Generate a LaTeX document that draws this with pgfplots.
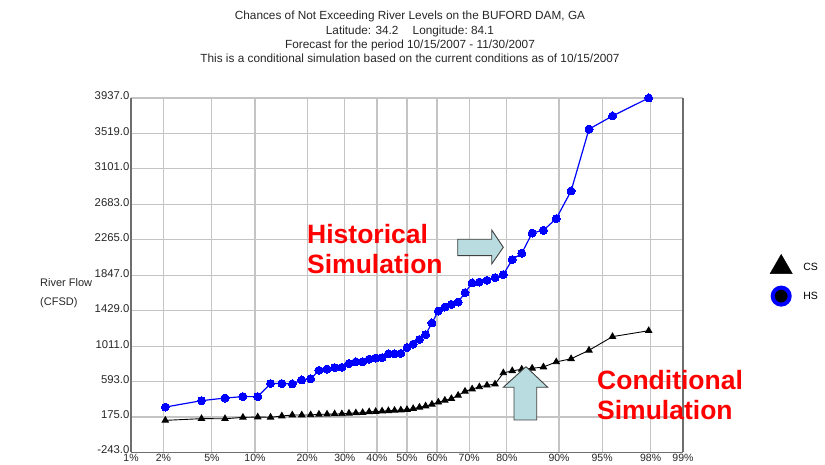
\documentclass[border=0pt]{standalone}
\usepackage{fontspec}
\setmainfont{Liberation Sans}
\usepackage{pgfplots}
\pgfplotsset{compat=1.18}
\definecolor{gridgray}{HTML}{C4C4C4}
\definecolor{axgray}{HTML}{6E6E6E}
\definecolor{arrowfill}{HTML}{B8DCDF}
\definecolor{hsblue}{HTML}{0000FF}
\pgfplotsset{dotlegend/.style={legend image code/.code={\draw[##1] plot coordinates {(0pt,0pt)};}}}
\begin{document}
\begin{tikzpicture}[x=1pt,y=1pt]
\useasboundingbox (0,0) rectangle (825,465);
\begin{axis}[
  at={(131pt,12.5pt)}, anchor=south west,
  scale only axis, width=552pt, height=354.5pt,
  xmin=-2.3263, xmax=2.3263, ymin=-243, ymax=3937,
  xtick={-2.3263,-2.0537,-1.6449,-1.2816,-0.8416,-0.5244,-0.2533,0,0.2533,0.5244,0.8416,1.2816,1.6449,2.0537,2.3263},
  xticklabels={1\%,2\%,5\%,10\%,20\%,30\%,40\%,50\%,60\%,70\%,80\%,90\%,95\%,98\%,99\%},
  ytick={-243,175,593,1011,1429,1847,2265,2683,3101,3519,3937},
  yticklabels={\raisebox{2.5pt}{-243.0},175.0,593.0,1011.0,1429.0,1847.0,2265.0,2683.0,3101.0,3519.0,3937.0},
  grid=major, major grid style={gridgray, line width=1.2pt},
  axis x line*=bottom, axis y line*=left,
  axis line style={axgray, line width=1.3pt, -},
  major tick length=0pt,
  /pgf/number format/assume math mode=true,
  tick label style={font=\fontsize{11.3}{12}\selectfont, text=black!85},
  xticklabel style={font=\fontsize{10.5}{11}\selectfont, inner sep=0.5pt, yshift=-1pt},
  yticklabel style={inner sep=1.5pt, yshift=2pt},
  clip=false,
  legend style={at={(rel axis cs:1.152,0.488)}, anchor=west, draw=none, fill=none,
    font=\fontsize{10.5}{12}\selectfont, row sep=14pt, column sep=9pt},
  legend cell align=left,
]
\addplot[black, line width=0.9pt, mark=triangle*, mark size=3.6pt, mark options={fill=black}, forget plot] coordinates {
(-2.037,136) (-1.732,156) (-1.534,155) (-1.383,171) (-1.258,175) (-1.150,172) (-1.055,187) (-0.967,199)
(-0.887,199) (-0.812,200) (-0.742,207) (-0.674,208) (-0.610,211) (-0.549,212) (-0.489,219) (-0.431,223)
(-0.374,227) (-0.319,236) (-0.264,240) (-0.210,245) (-0.157,249) (-0.105,253) (-0.052,257) (0,262)
(0.052,274) (0.105,290) (0.157,305) (0.210,325) (0.264,350) (0.319,372) (0.374,392) (0.431,430)
(0.489,478) (0.549,505) (0.610,530) (0.674,550) (0.742,563) (0.812,695) (0.887,720) (0.967,738)
(1.055,750) (1.150,765) (1.258,825) (1.383,862) (1.534,962) (1.732,1123) (2.037,1193)
};
\addplot[hsblue, line width=1.2pt, mark=*, mark size=4pt, mark options={fill=hsblue, draw=hsblue, line width=0pt}, forget plot] coordinates {
(-2.037,293) (-1.732,368) (-1.534,399) (-1.383,416) (-1.258,416) (-1.150,570) (-1.055,570) (-0.967,565)
(-0.887,612) (-0.812,625) (-0.742,726) (-0.674,741) (-0.610,758) (-0.549,761) (-0.489,806) (-0.431,826)
(-0.374,826) (-0.319,858) (-0.264,871) (-0.210,875) (-0.157,920) (-0.105,920) (-0.052,926) (0,995)
(0.052,1035) (0.105,1090) (0.157,1147) (0.210,1284) (0.264,1425) (0.319,1472) (0.374,1504) (0.431,1531)
(0.489,1642) (0.549,1756) (0.610,1767) (0.674,1787) (0.742,1819) (0.812,1855) (0.887,2032) (0.967,2106)
(1.055,2345) (1.150,2377) (1.258,2515) (1.383,2841) (1.534,3570) (1.732,3725) (2.037,3937)
};
\addlegendimage{dotlegend, black, mark=triangle*, mark size=12.8pt, mark options={fill=black}}
\addlegendentry{CS}
\addlegendimage{dotlegend, black, mark=*, mark size=8.5pt, mark options={fill=black, draw=hsblue, line width=4pt}}
\addlegendentry{HS}
\draw[axgray, line width=1.3pt] (rel axis cs:1,0) -- (rel axis cs:1,1);
\end{axis}
% titles
\begin{scope}[every node/.style={inner sep=0pt, font=\fontsize{11.8}{13}\selectfont, text=black!85}]
\node[anchor=base] at (410,445) {Chances of Not Exceeding River Levels on the BUFORD DAM, GA};
\node[anchor=base] at (410,430.7) {Latitude: 34.2\hspace{1.2em}Longitude:\ 84.1};
\node[anchor=base] at (410,416.4) {Forecast for the period 10/15/2007 - 11/30/2007};
\node[anchor=base] at (410,402) {This is a conditional simulation based on the current conditions as of 10/15/2007};
\end{scope}
\begin{scope}[every node/.style={inner sep=0pt, font=\fontsize{11}{13}\selectfont, text=black!85}]
\node[anchor=base west] at (40,178) {River Flow};
\node[anchor=base west] at (40,159.5) {(CFSD)};
\end{scope}
% annotations
\begin{scope}[every node/.style={inner sep=0pt, anchor=base west, text=red, font=\fontsize{26.5}{30}\selectfont\bfseries}]
\node at (307,221.5) {Historical};
\node at (307,191.5) {Simulation};
\node at (597,75) {Conditional};
\node at (597,45) {Simulation};
\end{scope}
\draw[fill=arrowfill, draw=black!75, line width=0.9pt]
  (457.7,225.7) -- (491.7,225.7) -- (491.7,235) -- (503.3,217.7) -- (491.7,201) -- (491.7,209.3) -- (457.7,209.3) -- cycle;
\draw[fill=arrowfill, draw=black!75, line width=0.9pt]
  (526,98.3) -- (547.7,77.7) -- (536.7,77.7) -- (536.7,45) -- (514,45) -- (514,77.7) -- (503.3,77.7) -- cycle;
\end{tikzpicture}
\end{document}
